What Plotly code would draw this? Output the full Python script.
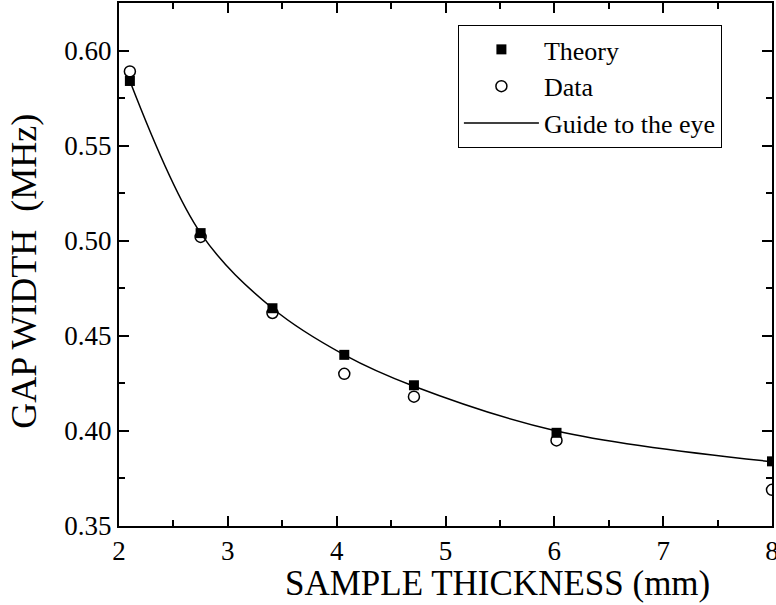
import plotly.graph_objects as go

thickness = [2.10, 2.75, 3.41, 4.07, 4.71, 6.02, 8.00]
theory = [0.584, 0.504, 0.4645, 0.440, 0.424, 0.399, 0.384]
data = [0.589, 0.502, 0.462, 0.430, 0.418, 0.395, 0.369]
guide_x = [2.10, 2.75, 3.41, 4.07, 4.71, 6.02, 8.00]
guide_y = [0.584, 0.504, 0.4645, 0.440, 0.4235, 0.400, 0.3838]

x_ticks = [2, 3, 4, 5, 6, 7, 8]
y_ticks = [0.35, 0.40, 0.45, 0.50, 0.55, 0.60]

FONT = "Liberation Serif"

fig = go.Figure()
fig.add_trace(go.Scatter(
    x=guide_x, y=guide_y, mode="lines", name="Guide to the eye",
    line=dict(color="black", width=1.5, shape="spline", smoothing=1.0),
    legendrank=3,
))
fig.add_trace(go.Scatter(
    x=thickness, y=theory, mode="markers", name="Theory",
    marker=dict(symbol="square", size=10, color="black", line=dict(width=0)),
    legendrank=1,
))
fig.add_trace(go.Scatter(
    x=thickness, y=data, mode="markers", name="Data",
    marker=dict(symbol="circle-open", size=11, color="black", line=dict(width=1.5)),
    legendrank=2,
))

axis_common = dict(
    showline=True, linecolor="black", linewidth=2, mirror="ticks",
    ticks="inside", ticklen=10, tickwidth=1.5, tickcolor="black",
    showgrid=False, zeroline=False, automargin=False,
    ticklabeloverflow="allow",
    tickfont=dict(family=FONT, size=27, color="black"),
)

fig.update_xaxes(
    range=[2, 8], tickvals=x_ticks, ticktext=[str(v) for v in x_ticks],
    minor=dict(ticks="inside", ticklen=6, tickwidth=1.5, tickcolor="black", dtick=0.5, showgrid=False),
    **axis_common,
)
fig.update_yaxes(
    range=[0.35, 0.625], tickvals=y_ticks, ticktext=[f"{v:.2f}" for v in y_ticks],
    minor=dict(ticks="inside", ticklen=6, tickwidth=1.5, tickcolor="black", dtick=0.025, showgrid=False),
    **axis_common,
)

fig.update_layout(
    width=776, height=605,
    margin=dict(l=119, r=4, t=3, b=79, autoexpand=False),
    paper_bgcolor="white", plot_bgcolor="white",
    font=dict(family=FONT, color="black"),
    showlegend=True,
    legend=dict(
        x=0.519, y=0.958, xanchor="left", yanchor="top",
        bordercolor="black", borderwidth=1, bgcolor="white",
        font=dict(family=FONT, size=26, color="black"),
        tracegroupgap=0, itemwidth=75,
    ),
    annotations=[
        dict(text="SAMPLE THICKNESS (mm)", xref="paper", yref="paper",
             x=0.579, y=-0.109, xanchor="center", yanchor="middle",
             showarrow=False, font=dict(family=FONT, size=35, color="black")),
        dict(text="GAP WIDTH  (MHz)", xref="paper", yref="paper",
             x=-0.146, y=0.4876, xanchor="center", yanchor="middle", textangle=-90,
             showarrow=False, font=dict(family=FONT, size=36, color="black")),
    ],
)

fig.write_html("out.html", config={"displayModeBar": False},
               post_script="document.body.style.margin='0';")
